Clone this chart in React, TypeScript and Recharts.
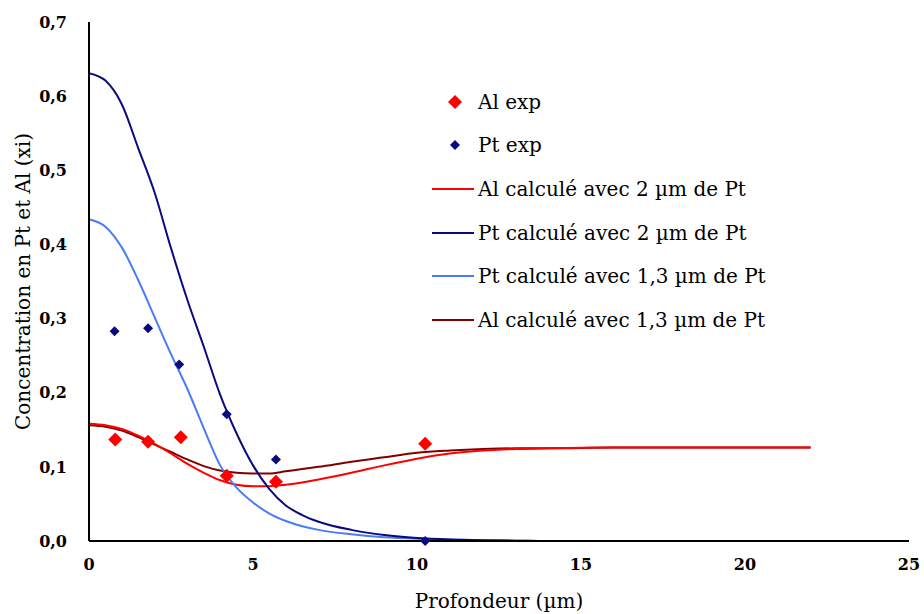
import React from "react";
import { ComposedChart, Line, Scatter, XAxis, YAxis } from "recharts";

const FONT = "'DejaVu Serif', serif";

const alExp = [
  { x: 0.8, y: 0.137 },
  { x: 1.8, y: 0.134 },
  { x: 2.8, y: 0.14 },
  { x: 4.2, y: 0.088 },
  { x: 5.7, y: 0.08 },
  { x: 10.25, y: 0.131 },
];

const ptExp = [
  { x: 0.78, y: 0.283 },
  { x: 1.8, y: 0.287 },
  { x: 2.75, y: 0.238 },
  { x: 4.2, y: 0.171 },
  { x: 5.7, y: 0.11 },
  { x: 10.25, y: 0.0 },
];

const depth = [0, 0.5, 1, 1.5, 2, 2.5, 3, 3.5, 4, 4.5, 5, 5.5, 6, 6.5, 7, 8, 9, 10, 11, 12, 13, 14, 16, 18, 20, 22];
const alCalc2 = [0.158, 0.156, 0.151, 0.142, 0.131, 0.118, 0.104, 0.092, 0.082, 0.076, 0.074, 0.074, 0.076, 0.079, 0.083, 0.092, 0.102, 0.111, 0.118, 0.122, 0.124, 0.125, 0.126, 0.126, 0.126, 0.126];
const ptCalc2 = [0.631, 0.621, 0.589, 0.53, 0.47, 0.395, 0.325, 0.262, 0.197, 0.145, 0.102, 0.07, 0.048, 0.035, 0.026, 0.015, 0.008, 0.004, 0.002, 0.001, 0.0005, 0, 0, 0, 0, 0];
const ptCalc13 = [0.434, 0.424, 0.396, 0.352, 0.302, 0.252, 0.205, 0.152, 0.102, 0.072, 0.052, 0.037, 0.027, 0.02, 0.015, 0.009, 0.005, 0.003, 0.002, 0.001, 0.0005, 0, 0, 0, 0, 0];
const alCalc13 = [0.156, 0.154, 0.149, 0.14, 0.13, 0.12, 0.11, 0.101, 0.095, 0.092, 0.091, 0.091, 0.094, 0.097, 0.1, 0.107, 0.113, 0.119, 0.122, 0.124, 0.125, 0.125, 0.126, 0.126, 0.126, 0.126];

const toPoints = (ys: number[]) => depth.map((x, i) => ({ x, y: ys[i] }));

const legendItems = [
  { label: "Al exp", color: "#ff0000", kind: "dot", size: 7 },
  { label: "Pt exp", color: "#0a0a80", kind: "dot", size: 5 },
  { label: "Al calculé avec 2 µm de Pt", color: "#ff0000", kind: "line" },
  { label: "Pt calculé avec 2 µm de Pt", color: "#0a0a80", kind: "line" },
  { label: "Pt calculé avec 1,3 µm de Pt", color: "#4a7cf5", kind: "line" },
  { label: "Al calculé avec 1,3 µm de Pt", color: "#800000", kind: "line" },
];

const diamond = (r: number, color: string) => (props: any) => {
  const { cx, cy } = props;
  return (
    <polygon
      points={`${cx},${cy - r} ${cx + r},${cy} ${cx},${cy + r} ${cx - r},${cy}`}
      fill={color}
    />
  );
};

const ChartLegend = () => (
  <div style={{ position: "absolute", left: 432, top: 80, fontFamily: FONT, fontSize: 20, color: "#000" }}>
    {legendItems.map((it) => (
      <div key={it.label} style={{ display: "flex", alignItems: "center", height: 43.6, whiteSpace: "nowrap" }}>
        <svg width={46} height={20} style={{ flex: "none" }}>
          {it.kind === "line" ? (
            <line x1={0} y1={10} x2={42} y2={10} stroke={it.color} strokeWidth={2} />
          ) : (
            <polygon
              points={`23,${10 - it.size!} ${23 + it.size!},10 23,${10 + it.size!} ${23 - it.size!},10`}
              fill={it.color}
            />
          )}
        </svg>
        <span>{it.label}</span>
      </div>
    ))}
  </div>
);

const fmt = (v: number) => String(v.toFixed(1)).replace(".", ",");

export default function App() {
  return (
    <div style={{ position: "absolute", left: 0, top: 0, width: 924, height: 614, overflow: "hidden" }}>
      <ComposedChart
        width={924}
        height={614}
        margin={{ top: 22, right: 15, bottom: 6, left: 23 }}
      >
        <XAxis
          type="number"
          dataKey="x"
          domain={[0, 25]}
          ticks={[0, 5, 10, 15, 20, 25]}
          tickLine={false}
          axisLine={{ stroke: "#000", strokeWidth: 2 }}
          tick={{ fill: "#000", fontFamily: FONT, fontSize: 16, fontWeight: "bold" }}
          tickMargin={12}
          height={67}
          label={{ value: "Profondeur (µm)", position: "insideBottom", offset: 0, fill: "#000", fontFamily: FONT, fontSize: 20 }}
        />
        <YAxis
          type="number"
          dataKey="y"
          domain={[0, 0.7]}
          ticks={[0, 0.1, 0.2, 0.3, 0.4, 0.5, 0.6, 0.7]}
          tickFormatter={fmt}
          tickLine={false}
          axisLine={{ stroke: "#000", strokeWidth: 2 }}
          tick={{ fill: "#000", fontFamily: FONT, fontSize: 16, fontWeight: "bold" }}
          tickMargin={16}
          width={66}
          label={{ value: "Concentration en Pt et Al (xi)", angle: -90, position: "insideLeft", offset: 0, style: { textAnchor: "middle" }, fill: "#000", fontFamily: FONT, fontSize: 20 }}
        />
        <Line data={toPoints(alCalc13)} dataKey="y" type="monotone" stroke="#800000" strokeWidth={2} dot={false} isAnimationActive={false} />
        <Line data={toPoints(alCalc2)} dataKey="y" type="monotone" stroke="#ff0000" strokeWidth={2} dot={false} isAnimationActive={false} />
        <Line data={toPoints(ptCalc13)} dataKey="y" type="monotone" stroke="#4a7cf5" strokeWidth={2} dot={false} isAnimationActive={false} />
        <Line data={toPoints(ptCalc2)} dataKey="y" type="monotone" stroke="#0a0a80" strokeWidth={2} dot={false} isAnimationActive={false} />
        <Scatter data={alExp} dataKey="y" shape={diamond(7, "#ff0000")} isAnimationActive={false} />
        <Scatter data={ptExp} dataKey="y" shape={diamond(5, "#0a0a80")} isAnimationActive={false} />
      </ComposedChart>
      <ChartLegend />
    </div>
  );
}
